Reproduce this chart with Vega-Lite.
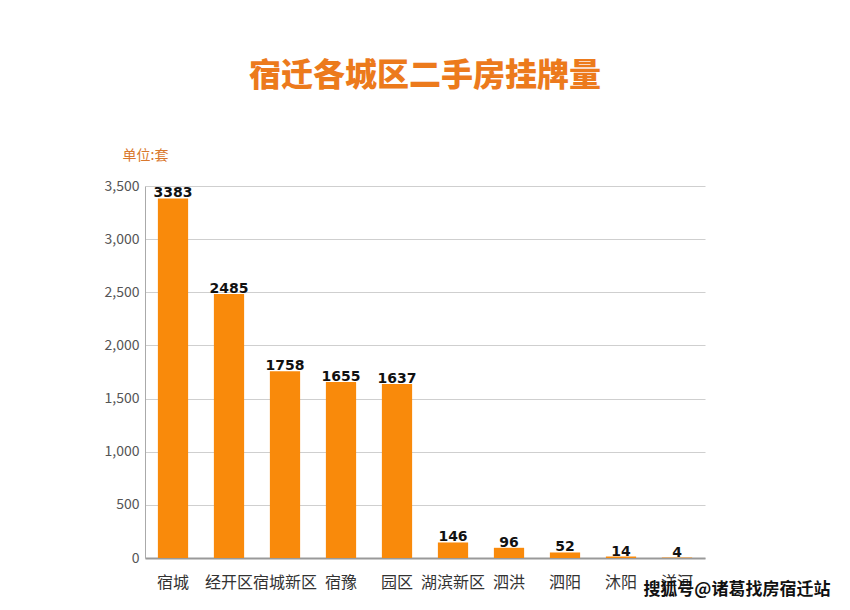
{
  "$schema": "https://vega.github.io/schema/vega-lite/v6.json",
  "autosize": "none",
  "width": 560,
  "height": 372,
  "padding": {"left": 145, "top": 186, "right": 145, "bottom": 52},
  "background": "white",
  "title": {
    "text": "宿迁各城区二手房挂牌量",
    "font": "Noto Sans CJK SC",
    "fontSize": 32,
    "fontWeight": 900,
    "color": "#EC7A1C",
    "anchor": "middle",
    "offset": 55
  },
  "data": {
    "values": [
      {"区域": "宿城", "挂牌量": 3383},
      {"区域": "经开区", "挂牌量": 2485},
      {"区域": "宿城新区", "挂牌量": 1758},
      {"区域": "宿豫", "挂牌量": 1655},
      {"区域": "园区", "挂牌量": 1637},
      {"区域": "湖滨新区", "挂牌量": 146},
      {"区域": "泗洪", "挂牌量": 96},
      {"区域": "泗阳", "挂牌量": 52},
      {"区域": "沐阳", "挂牌量": 14},
      {"区域": "洋河", "挂牌量": 4}
    ]
  },
  "encoding": {
    "x": {
      "field": "区域",
      "type": "nominal",
      "sort": null,
      "scale": {"paddingInner": 0.46, "paddingOuter": 0.23},
      "axis": {
        "title": "搜狐号@诸葛找房宿迁站",
        "titleFont": "Noto Sans CJK SC",
        "titleFontSize": 17,
        "titleFontWeight": "bold",
        "titleColor": "#111",
        "titleAnchor": "end",
        "titleAlign": "right",
        "titleBaseline": "middle",
        "titleX": 685,
        "titleY": 31,
        "labelAngle": 0,
        "labelFont": "Noto Sans CJK SC",
        "labelFontSize": 16,
        "labelColor": "#333",
        "labelPadding": 16,
        "ticks": false,
        "domainColor": "#999",
        "domainWidth": 2,
        "labelOverlap": false
      }
    },
    "y": {
      "field": "挂牌量",
      "type": "quantitative",
      "scale": {"domain": [0, 3500]},
      "axis": {
        "values": [0, 500, 1000, 1500, 2000, 2500, 3000, 3500],
        "format": ",.0f",
        "title": "单位:套",
        "titleAngle": 0,
        "titleFont": "Noto Sans CJK SC",
        "titleFontSize": 14,
        "titleFontWeight": "normal",
        "titleColor": "#D9782D",
        "titleAlign": "center",
        "titleBaseline": "middle",
        "titleX": 0,
        "titleY": -31,
        "labelFont": "Noto Sans CJK SC",
        "labelFontSize": 14,
        "labelColor": "#555",
        "labelPadding": 6,
        "ticks": false,
        "domainColor": "#aaa",
        "gridColor": "#cfcfcf",
        "gridWidth": 1
      }
    }
  },
  "layer": [
    {"mark": {"type": "bar", "color": "#F98A0B"}},
    {
      "mark": {
        "type": "text",
        "baseline": "alphabetic",
        "dy": -1,
        "font": "DejaVu Sans",
        "fontSize": 14,
        "fontWeight": "bold",
        "color": "#111"
      },
      "encoding": {"text": {"field": "挂牌量", "type": "quantitative"}}
    }
  ],
  "config": {"view": {"stroke": null}}
}
